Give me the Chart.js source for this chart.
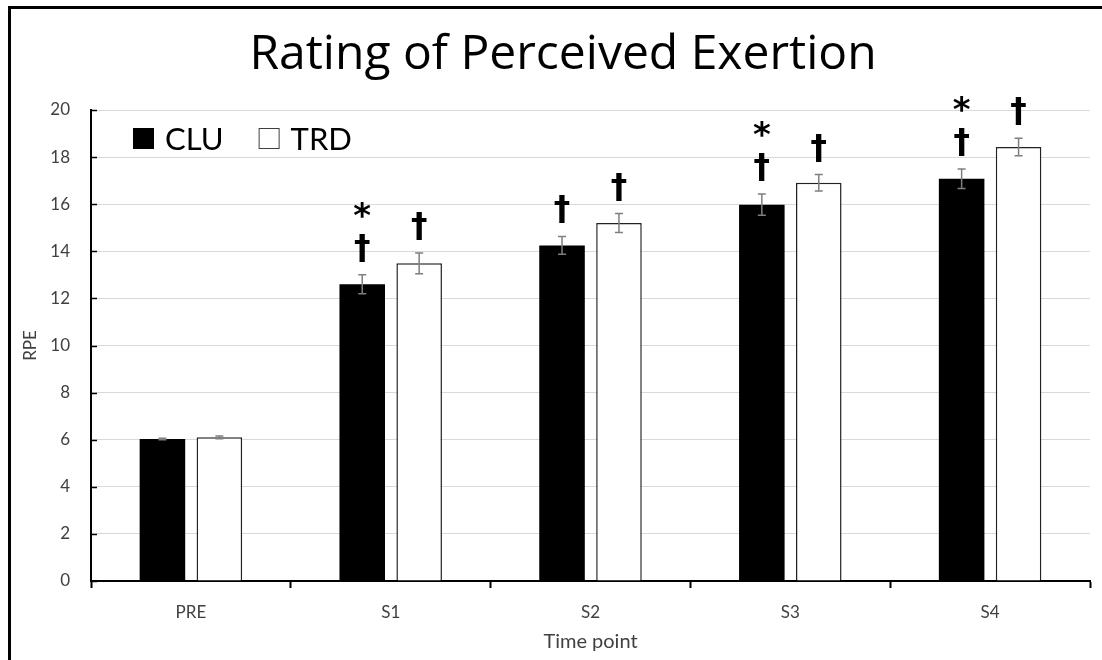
<!DOCTYPE html>
<html>
<head>
<meta charset="utf-8">
<title>RPE</title>
<script src="https://cdn.jsdelivr.net/npm/chart.js@4.4.1/dist/chart.umd.min.js"></script>
<style>
  html, body { margin: 0; padding: 0; background: #fff; overflow: hidden; }
  body { width: 1102px; height: 660px; position: relative; }
  #frame { position: absolute; left: 8px; top: 6px; width: 1200px; height: 800px; border: 3px solid #000; box-sizing: border-box; }
  #chart { position: absolute; left: 0; top: 0; }
</style>
</head>
<body>
<div id="frame"></div>
<canvas id="chart" width="1126" height="660"></canvas>
<script>
const timePoints = ['PRE', 'S1', 'S2', 'S3', 'S4'];

const cluMeans = [6.03, 12.6, 14.25, 15.98, 17.08];
const cluErrors = [0.03, 0.4, 0.38, 0.45, 0.41];
const cluMarks = ['', '*†', '†', '*†', '*†'];

const trdMeans = [6.1, 13.49, 15.2, 16.91, 18.43];
const trdErrors = [0.06, 0.44, 0.4, 0.35, 0.37];
const trdMarks = ['', '†', '†', '†', '†'];

const yTicks = [0, 2, 4, 6, 8, 10, 12, 14, 16, 18, 20];

const FONT = 'Lato';
const labelColor = '#404040';

// error bars (mean +/- error) on top of each bar
const errorBars = {
    id: 'errorBars',
    afterDatasetsDraw(chart) {
        const ctx = chart.ctx;
        const y = chart.scales.y;
        ctx.save();
        ctx.strokeStyle = '#7f7f7f';
        ctx.lineWidth = 1.5;
        chart.data.datasets.forEach((ds, i) => {
            chart.getDatasetMeta(i).data.forEach((bar, j) => {
                const top = y.getPixelForValue(ds.data[j] + ds.errors[j]);
                const bot = y.getPixelForValue(ds.data[j] - ds.errors[j]);
                ctx.beginPath();
                ctx.moveTo(bar.x, top); ctx.lineTo(bar.x, bot);
                ctx.moveTo(bar.x - 4, top); ctx.lineTo(bar.x + 4, top);
                ctx.moveTo(bar.x - 4, bot); ctx.lineTo(bar.x + 4, bot);
                ctx.stroke();
            });
        });
        ctx.restore();
    }
};

// significance symbols stacked above the error bars
const sigMarks = {
    id: 'sigMarks',
    afterDatasetsDraw(chart) {
        const ctx = chart.ctx;
        const y = chart.scales.y;
        const fonts = { '†': 'bold 33px "DejaVu Sans"', '*': 'bold 34px "DejaVu Sans"' };
        ctx.save();
        ctx.fillStyle = '#000';
        ctx.textAlign = 'center';
        ctx.textBaseline = 'alphabetic';
        chart.data.datasets.forEach((ds, i) => {
            chart.getDatasetMeta(i).data.forEach((bar, j) => {
                let bottom = y.getPixelForValue(ds.data[j] + ds.errors[j]) - 13;
                const chars = ds.marks[j].split('').reverse();
                chars.forEach((c) => {
                    ctx.font = fonts[c];
                    const m = ctx.measureText(c);
                    ctx.fillText(c, bar.x, bottom - m.actualBoundingBoxDescent);
                    bottom = bottom - m.actualBoundingBoxDescent - m.actualBoundingBoxAscent - 16;
                });
            });
        });
        ctx.restore();
    }
};

// legend inside the plot, top left
const innerLegend = {
    id: 'innerLegend',
    afterDraw(chart) {
        const ctx = chart.ctx;
        const area = chart.chartArea;
        let x = area.left + 42;
        const yMid = area.top + 28.5;
        ctx.save();
        ctx.font = '31px ' + FONT;
        ctx.textBaseline = 'middle';
        ctx.textAlign = 'left';
        chart.data.datasets.forEach((ds) => {
            ctx.fillStyle = ds.backgroundColor;
            ctx.fillRect(x, yMid - 10.5, 21, 21);
            if (ds.borderWidth) {
                ctx.strokeStyle = '#404040';
                ctx.lineWidth = 1;
                ctx.strokeRect(x + 0.5, yMid - 10, 20, 20);
            }
            ctx.fillStyle = '#000';
            ctx.fillText(ds.label, x + 32, yMid + 1);
            x += 32 + ctx.measureText(ds.label).width + 35;
        });
        ctx.restore();
    }
};

// short inward tick marks on the value axis
const innerTicks = {
    id: 'innerTicks',
    afterDraw(chart) {
        const ctx = chart.ctx;
        const y = chart.scales.y;
        const left = chart.chartArea.left;
        ctx.save();
        ctx.strokeStyle = '#000';
        ctx.lineWidth = 1.5;
        y.ticks.forEach((t) => {
            const py = Math.round(y.getPixelForValue(t.value)) + 0.5;
            ctx.beginPath();
            ctx.moveTo(left, py);
            ctx.lineTo(left + 6, py);
            ctx.stroke();
        });
        ctx.restore();
    }
};

const chart = new Chart(document.getElementById('chart'), {
    type: 'bar',
    data: {
        labels: timePoints,
        datasets: [
            {
                label: 'CLU',
                data: cluMeans,
                errors: cluErrors,
                marks: cluMarks,
                backgroundColor: '#000',
                borderWidth: 0
            },
            {
                label: 'TRD',
                data: trdMeans,
                errors: trdErrors,
                marks: trdMarks,
                backgroundColor: '#fff',
                borderColor: '#222',
                borderWidth: 1.5
            }
        ]
    },
    options: {
        responsive: false,
        animation: false,
        categoryPercentage: 0.57,
        barPercentage: 0.8,
        layout: { padding: { left: 36, right: 36, top: 0, bottom: 0 } },
        plugins: {
            legend: { display: false },
            tooltip: { enabled: false },
            title: {
                display: true,
                text: 'Rating of Perceived Exertion',
                color: '#000',
                font: { family: 'Open Sans', size: 48, weight: 'normal' },
                padding: { top: 27, bottom: 25.4 }
            }
        },
        scales: {
            x: {
                afterFit(scale) { scale.height = 79; },
                grid: {
                    drawOnChartArea: false,
                    drawTicks: true,
                    tickLength: 7,
                    tickWidth: 2,
                    tickColor: '#000',
                    offset: true
                },
                border: { color: '#000', width: 2 },
                ticks: {
                    color: labelColor,
                    padding: 14,
                    font: { family: FONT, size: 17 }
                },
                title: {
                    display: true,
                    text: 'Time point',
                    color: labelColor,
                    font: { family: FONT, size: 20 },
                    padding: { top: 0, bottom: 6 }
                }
            },
            y: {
                min: 0,
                max: 20,
                afterFit(scale) { scale.width = 55; },
                afterBuildTicks(scale) { scale.ticks = yTicks.map(v => ({ value: v })); },
                grid: { color: '#d9d9d9', lineWidth: 1, drawTicks: false },
                border: { color: '#000', width: 2 },
                ticks: {
                    color: labelColor,
                    padding: 21,
                    font: { family: FONT, size: 17 }
                },
                title: {
                    display: true,
                    text: 'RPE',
                    color: labelColor,
                    font: { family: FONT, size: 17 },
                    padding: { top: -16, bottom: 0 }
                }
            }
        }
    },
    plugins: [errorBars, sigMarks, innerLegend, innerTicks]
});
</script>
</body>
</html>
